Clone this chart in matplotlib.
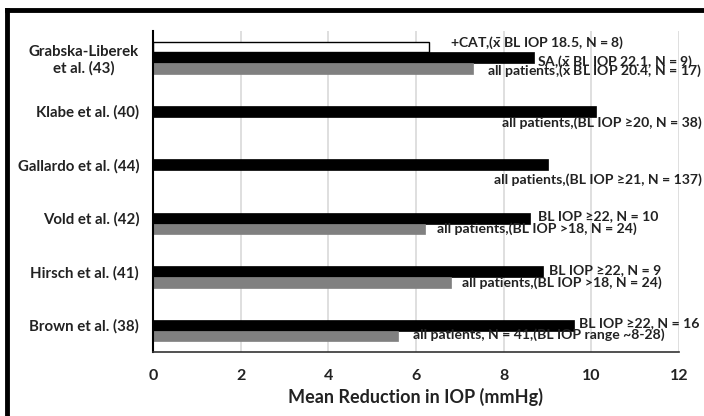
import matplotlib.pyplot as plt
import matplotlib.lines as mlines

plt.rcParams['font.family'] = ['Lato', 'DejaVu Sans']
plt.rcParams['font.weight'] = 'bold'
plt.rcParams['mathtext.fontset'] = 'custom'
plt.rcParams['mathtext.bf'] = 'Lato:bold'
plt.rcParams['mathtext.rm'] = 'Lato:bold'

# data
studies = ['Grabska-Liberek\net al. (43)', 'Klabe et al. (40)', 'Gallardo et al. (44)',
           'Vold et al. (42)', 'Hirsch et al. (41)', 'Brown et al. (38)']
cat_vals = [6.3, None, None, None, None, None]       # white bars
main_vals = [8.7, 10.1, 9.0, 8.6, 8.9, 9.6]          # black bars
all_vals = [7.3, None, None, 6.2, 6.8, 5.6]          # gray bars

# data labels: (text, x, y, anchor) in data units
labels = [
    ('+CAT,($\\bar{\\mathbf{x}}$ BL IOP 18.5, N = 8)', 6.78, -0.28, 'left'),
    ('SA,($\\bar{\\mathbf{x}}$ BL IOP 22.1, N = 9)', 12.32, 0.07, 'right'),
    ('all patients,($\\bar{\\mathbf{x}}$ BL IOP 20.4, N = 17)', 12.52, 0.25, 'right'),
    ('all patients,(BL IOP ≥20, N = 38)', 12.52, 1.22, 'right'),
    ('all patients,(BL IOP ≥21, N = 137)', 12.52, 2.27, 'right'),
    ('BL IOP ≥22, N = 10', 8.78, 2.96, 'left'),
    ('all patients,(BL IOP >18, N = 24)', 6.48, 3.20, 'left'),
    ('BL IOP ≥22, N = 9', 9.03, 3.97, 'left'),
    ('all patients,(BL IOP >18, N = 24)', 7.05, 4.21, 'left'),
    ('BL IOP ≥22, N = 16', 9.72, 4.96, 'left'),
    ('all patients, N = 41,(BL IOP range ~8-28)', 5.93, 5.18, 'left'),
]

fig = plt.figure(figsize=(7.04, 4.16), dpi=100)
ax = fig.add_axes([153/704, 1 - 352/416, 526/704, 321/416])

h = 0.2
ys = list(range(len(studies)))
for i in ys:
    if cat_vals[i] is not None:
        ax.barh(i - h, cat_vals[i], height=h, color='white', edgecolor='black', linewidth=1)
    if main_vals[i] is not None:
        ax.barh(i, main_vals[i], height=h, color='black', edgecolor='black', linewidth=0.5)
    if all_vals[i] is not None:
        ax.barh(i + h, all_vals[i], height=h, color='#808080', edgecolor='#808080', linewidth=0.5)

for txt, x, y, anchor in labels:
    ax.text(x, y, txt, ha=anchor, va='center', fontsize=10.1, fontweight='bold',
            color='#222222', clip_on=False)

ax.set_xlim(0, 12)
ax.set_ylim(len(studies) - 0.5, -0.5)
ax.set_xticks(range(0, 13, 2))
ax.set_yticks(ys)
ax.set_yticklabels(studies, multialignment='center')
ax.tick_params(axis='both', length=0, labelsize=10.8, colors='#222222')
ax.tick_params(axis='x', pad=12, labelsize=11.5)
ax.tick_params(axis='y', pad=10)
ax.grid(axis='x', color='#d9d9d9', linewidth=1.2)
ax.set_axisbelow(True)
for s in ['top', 'right']:
    ax.spines[s].set_visible(False)
ax.spines['left'].set_linewidth(1.5)
ax.spines['bottom'].set_linewidth(1.2)
ax.spines['bottom'].set_color('#333333')
ax.set_xlabel('Mean Reduction in IOP (mmHg)', fontsize=13, fontweight='bold',
              color='#222222', labelpad=4)

# outer frame (top and left)
fig.add_artist(mlines.Line2D([7.5/704, 1], [1 - 9.5/416, 1 - 9.5/416], color='black', linewidth=3.5))
fig.add_artist(mlines.Line2D([7.5/704, 7.5/704], [0, 1 - 9.5/416], color='black', linewidth=3.5))

fig.savefig('out.png', dpi=100)
